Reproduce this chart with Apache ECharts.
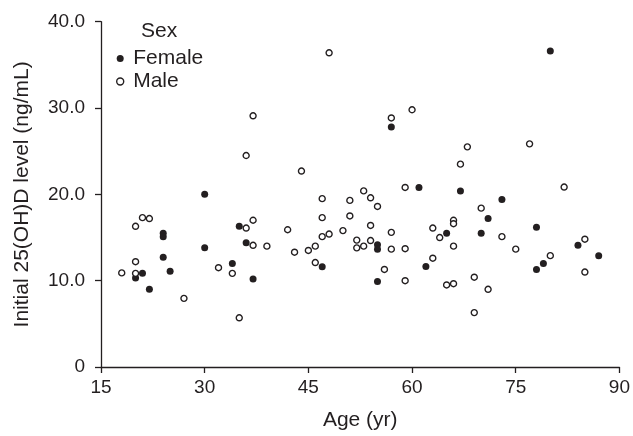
<!DOCTYPE html>
<html>
<head>
<meta charset="utf-8">
<script src="https://cdn.jsdelivr.net/npm/echarts@6/dist/echarts.min.js"></script>
<style>
html,body{margin:0;padding:0;background:#fff;}
#chart{width:633px;height:436px;}
</style>
</head>
<body>
<div id="chart"></div>
<script>
// ---- Data ----
var femaleAge   = [30, 24, 24, 35, 36, 30, 24, 20, 21, 25, 22, 34, 37, 61, 55, 55, 47, 62, 55, 67, 73, 71, 65, 70, 78, 84, 87, 79, 78, 57, 80];
var femaleLevel = [20.0, 15.5, 15.1, 16.3, 14.4, 13.8, 12.7, 10.3, 10.85, 11.1, 9.0, 12.0, 10.2, 20.8, 14.15, 13.65, 11.6, 11.65, 9.9, 20.4, 19.4, 17.2, 15.5, 15.5, 16.2, 14.1, 12.9, 12.0, 11.3, 27.8, 36.6];

var maleAge   = [36, 21, 22, 20, 36, 37, 37, 39, 20, 18, 20, 27, 32, 34, 35, 44, 59, 53, 47, 51, 54, 55, 47, 51, 42, 50, 54, 57, 63, 64, 47, 48, 43, 45, 46, 52, 52, 53, 54, 57, 59, 46, 56, 63, 59, 68, 67, 82, 70, 66, 66, 73, 66, 75, 85, 80, 85, 69, 65, 66, 71, 69, 48, 57, 60, 77, 37];
var maleLevel = [24.5, 17.3, 17.2, 16.3, 16.1, 17.0, 14.1, 14.0, 12.2, 10.9, 10.85, 7.95, 11.5, 10.85, 5.7, 22.7, 20.8, 20.4, 19.5, 19.3, 19.6, 18.6, 17.3, 17.5, 15.9, 15.8, 16.4, 15.6, 16.1, 15.0, 15.1, 15.4, 13.3, 13.5, 14.0, 14.7, 13.8, 14.0, 14.65, 13.65, 13.7, 12.1, 11.3, 12.6, 10.0, 25.5, 23.5, 20.85, 18.4, 17.0, 16.6, 15.1, 14.0, 13.65, 14.8, 12.9, 11.0, 10.4, 9.5, 9.65, 9.0, 6.3, 36.4, 28.85, 29.8, 25.85, 29.1];

var xTicks = [15, 30, 45, 60, 75, 90];
var yTicks = [0, 10, 20, 30, 40];
var seriesNames = ['Female', 'Male'];
var legendTitle = 'Sex';
var xName = 'Age (yr)';
var yName = 'Initial 25(OH)D level (ng/mL)';

// ---- Build ----
function pairs(a, b) { return a.map(function (v, i) { return [v, b[i]]; }); }
var ink = '#231f20';
var font = "'Liberation Sans', Arial, Helvetica, sans-serif";

var chart = echarts.init(document.getElementById('chart'), null, {renderer: 'canvas'});
chart.setOption({
  animation: false,
  backgroundColor: '#fff',
  textStyle: {fontFamily: font, color: ink},
  grid: {left: 101, right: 12, top: 21.7, bottom: 67.7, containLabel: false},
  title: {
    text: legendTitle, left: 141, top: 21, padding: 0,
    textStyle: {fontFamily: font, fontSize: 21, fontWeight: 'normal', color: ink}
  },
  legend: {
    orient: 'vertical', left: 116, top: 48, padding: 0, itemGap: 2,
    itemWidth: 16, itemHeight: 7,
    textStyle: {fontFamily: font, fontSize: 21, color: ink, padding: [0, 0, 0, 0]},
    data: [
      {name: seriesNames[0], icon: 'circle', itemStyle: {color: ink, borderWidth: 0}},
      {name: seriesNames[1], icon: 'circle', itemStyle: {color: '#fff', borderColor: ink, borderWidth: 1.4}}
    ]
  },
  xAxis: {
    type: 'value', min: xTicks[0], max: xTicks[xTicks.length - 1], interval: 15,
    name: xName, nameLocation: 'middle', nameGap: 43,
    nameTextStyle: {fontFamily: font, fontSize: 21, color: ink},
    axisLine: {show: true, onZero: false, lineStyle: {color: ink, width: 1.3}},
    axisTick: {show: true, length: 6, lineStyle: {color: ink, width: 1.3}},
    axisLabel: {fontFamily: font, fontSize: 19, color: ink, margin: 11},
    splitLine: {show: false}
  },
  yAxis: {
    type: 'value', min: yTicks[0], max: yTicks[yTicks.length - 1], interval: 10,
    name: yName, nameLocation: 'middle', nameGap: 68, nameRotate: 90,
    nameTextStyle: {fontFamily: font, fontSize: 21, color: ink},
    axisLine: {show: true, onZero: false, lineStyle: {color: ink, width: 1.3}},
    axisTick: {show: true, length: 6, lineStyle: {color: ink, width: 1.3}},
    axisLabel: {
      fontFamily: font, fontSize: 19, color: ink, margin: 16,
      formatter: function (v) { return v === 0 ? '0' : v.toFixed(1); }
    },
    splitLine: {show: false}
  },
  series: [
    {
      name: seriesNames[0], type: 'scatter', symbol: 'circle', symbolSize: 7,
      itemStyle: {color: ink, opacity: 1},
      data: pairs(femaleAge, femaleLevel)
    },
    {
      name: seriesNames[1], type: 'scatter', symbol: 'circle', symbolSize: 6,
      itemStyle: {color: '#fff', borderColor: ink, borderWidth: 1.4, opacity: 1},
      data: pairs(maleAge, maleLevel)
    }
  ]
});
</script>
</body>
</html>
